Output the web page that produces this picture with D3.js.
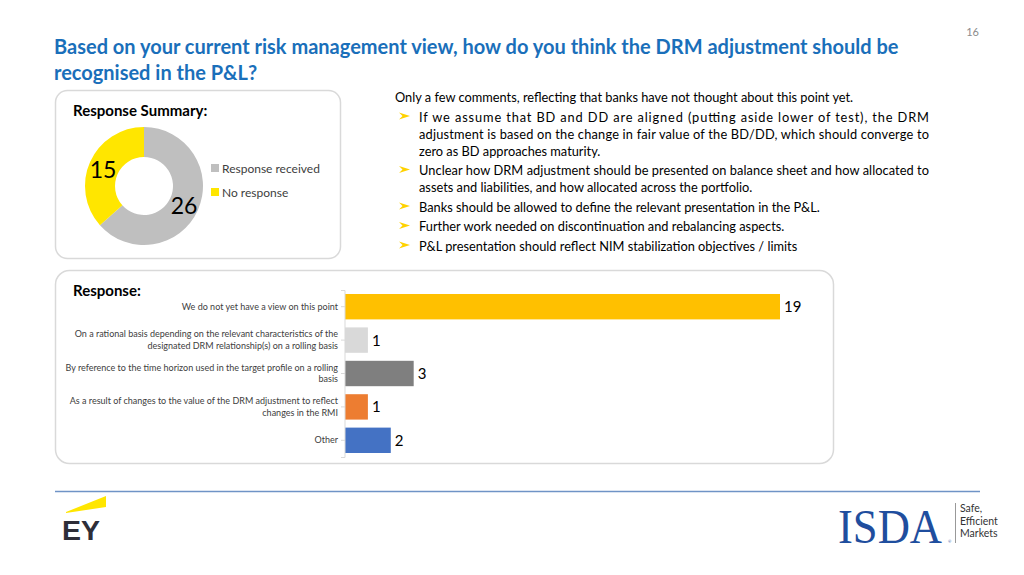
<!DOCTYPE html>
<html><head><meta charset="utf-8">
<script src="https://cdn.jsdelivr.net/npm/d3@7"></script>
<style>
body{margin:0;background:#fff;}
svg{display:block;font-family:Lato,"Open Sans",sans-serif;}
</style></head><body>
<svg id="c" width="1024" height="575"></svg>
<script>
const pieLabels = ["Response received","No response"];
const pieValues = [26,15];
const pieColors = ["#bfbfbf","#ffe600"];

const barCategories = [
  ["We do not yet have a view on this point"],
  ["On a rational basis depending on the relevant characteristics of the","designated DRM relationship(s) on a rolling basis"],
  ["By reference to the time horizon used in the target profile on a rolling","basis"],
  ["As a result of changes to the value of the DRM adjustment to reflect","changes in the RMI"],
  ["Other"]
];
const barValues = [19,1,3,1,2];
const barColors = ["#ffc000","#d9d9d9","#7f7f7f","#ed7d31","#4472c4"];

const comments = [
  {bullet:false, lines:["Only a few comments, reflecting that banks have not thought about this point yet."]},
  {bullet:true, lines:["If we assume that BD and DD are aligned (putting aside lower of test), the DRM","adjustment is based on the change in fair value of the BD/DD, which should converge to","zero as BD approaches maturity."]},
  {bullet:true, lines:["Unclear how DRM adjustment should be presented on balance sheet and how allocated to","assets and liabilities, and how allocated across the portfolio."]},
  {bullet:true, lines:["Banks should be allowed to define the relevant presentation in the P&L."]},
  {bullet:true, lines:["Further work needed on discontinuation and rebalancing aspects."]},
  {bullet:true, lines:["P&L presentation should reflect NIM stabilization objectives / limits"]}
];

const svg = d3.select("#c");

// Title
svg.append("text").attr("x",54).attr("y",54).attr("fill","#1a6fba").attr("font-weight","bold").attr("font-size",20)
  .text("Based on your current risk management view, how do you think the DRM adjustment should be");
svg.append("text").attr("x",54).attr("y",80).attr("fill","#1a6fba").attr("font-weight","bold").attr("font-size",20)
  .text("recognised in the P&L?");
svg.append("text").attr("x",979).attr("y",36).attr("fill","#8c8c8c").attr("font-size",11).attr("text-anchor","end").text("16");

// Pie panel
svg.append("rect").attr("x",55.5).attr("y",90.5).attr("width",285).attr("height",168).attr("rx",12)
  .attr("fill","#fff").attr("stroke","#d9d9d9").attr("stroke-width",1.5);
svg.append("text").attr("x",73).attr("y",116).attr("font-weight","bold").attr("font-size",15).attr("fill","#000").text("Response Summary:");

const pie = d3.pie().sort(null).value(d=>d)(pieValues);
const arc = d3.arc().innerRadius(29).outerRadius(59);
const pg = svg.append("g").attr("transform","translate(144,186)");
pg.selectAll("path").data(pie).join("path").attr("d",arc).attr("fill",(d,i)=>pieColors[i]);
const labelPos = [[40,28],[-41,-8]];
pg.selectAll("text.v").data(pie).join("text").attr("class","v")
  .attr("x",(d,i)=>labelPos[i][0]).attr("y",(d,i)=>labelPos[i][1])
  .attr("text-anchor","middle").attr("font-size",23).attr("fill","#000").text(d=>d.data);
const lg = svg.append("g").attr("transform","translate(211,164)");
pieLabels.forEach((l,i)=>{
  lg.append("rect").attr("x",0).attr("y",i*24).attr("width",8).attr("height",8).attr("fill",pieColors[i]);
  lg.append("text").attr("x",11).attr("y",i*24+8.5).attr("font-size",12).attr("fill","#404040").text(l);
});

// Comments
const tg = svg.append("g");
let y = 102;
const textLeft = 419, textRight = 929;
comments.forEach((c,ci)=>{
  if(ci===0){
    tg.append("text").attr("x",395).attr("y",y).attr("font-size",12.8).attr("fill","#000").text(c.lines[0]);
    y += 19.5;
    return;
  }
  tg.append("path").attr("d",`M399,${y-9} L410,${y-5.5} L399,${y-2} L402.5,${y-5.5} Z`).attr("fill","#ffd200");
  c.lines.forEach((ln,li)=>{
    const t = tg.append("text").attr("x",textLeft).attr("y",y).attr("font-size",12.8).attr("fill","#000").text(ln);
    if(li < c.lines.length-1){
      t.attr("textLength",textRight-textLeft).attr("lengthAdjust","spacing");
    }
    y += 17;
  });
  y += 2.5;
});

// Bar panel
svg.append("rect").attr("x",55.5).attr("y",270.5).attr("width",778).attr("height",193).attr("rx",14)
  .attr("fill","#fff").attr("stroke","#d9d9d9").attr("stroke-width",1.5);
svg.append("text").attr("x",73).attr("y",296).attr("font-weight","bold").attr("font-size",15).attr("fill","#000").text("Response:");

const x = d3.scaleLinear().domain([0,19]).range([345,780]);
const yb = d3.scaleBand().domain(d3.range(barValues.length)).range([290,457]).paddingInner(0.24).paddingOuter(0.12);
const bg = svg.append("g");
const yAxis = d3.axisLeft(d3.scaleBand().domain(d3.range(barValues.length)).range([290,457])).tickSize(4).tickFormat("");
const axG = svg.append("g").attr("transform","translate(345,0)").call(yAxis);
axG.selectAll("path,line").attr("stroke","#d9d9d9");
axG.select(".domain").attr("d","M-4,290.5H0V457.5H-4");
bg.selectAll("rect").data(barValues).join("rect")
  .attr("x",x(0)).attr("y",(d,i)=>yb(i)).attr("width",d=>x(d)-x(0)).attr("height",yb.bandwidth())
  .attr("fill",(d,i)=>barColors[i]);
bg.selectAll("text.val").data(barValues).join("text").attr("class","val")
  .attr("x",d=>x(d)+4).attr("y",(d,i)=>yb(i)+yb.bandwidth()/2+5.5)
  .attr("font-size",15).attr("fill","#000").text(d=>d);
barCategories.forEach((lines,i)=>{
  const cy = yb(i)+yb.bandwidth()/2;
  const n = lines.length;
  lines.forEach((ln,li)=>{
    bg.append("text").attr("x",338).attr("y",cy + (li-(n-1)/2)*11.5 + 3)
      .attr("text-anchor","end").attr("font-size",9).attr("fill","#404040").text(ln);
  });
});

// Footer
svg.append("line").attr("x1",55).attr("x2",980).attr("y1",491.5).attr("y2",491.5).attr("stroke","#6f93c6").attr("stroke-width",1.5);
// EY logo
svg.append("path").attr("d","M66,512 L106,496 L106,507 L66,513 Z").attr("fill","#ffe600");
svg.append("text").attr("x",62).attr("y",540).attr("font-family","Liberation Sans, Arial, sans-serif").attr("font-weight","bold")
  .attr("font-size",27).attr("fill","#2e2e38").attr("textLength",38).attr("lengthAdjust","spacingAndGlyphs").text("EY");
// ISDA logo
svg.append("text").attr("x",838).attr("y",543).attr("font-family","Liberation Serif, serif").attr("font-size",48)
  .attr("fill","#1f4e9e").attr("textLength",104).attr("lengthAdjust","spacingAndGlyphs").text("ISDA");
svg.append("text").attr("x",948).attr("y",543).attr("font-size",4).attr("fill","#1f4e9e").text("®");
svg.append("line").attr("x1",955.5).attr("x2",955.5).attr("y1",503).attr("y2",543).attr("stroke","#999").attr("stroke-width",1);
["Safe,","Efficient","Markets"].forEach((t,i)=>{
  svg.append("text").attr("x",960).attr("y",512+i*12.5).attr("font-size",10.5).attr("fill","#333").text(t);
});
</script>
</body></html>
